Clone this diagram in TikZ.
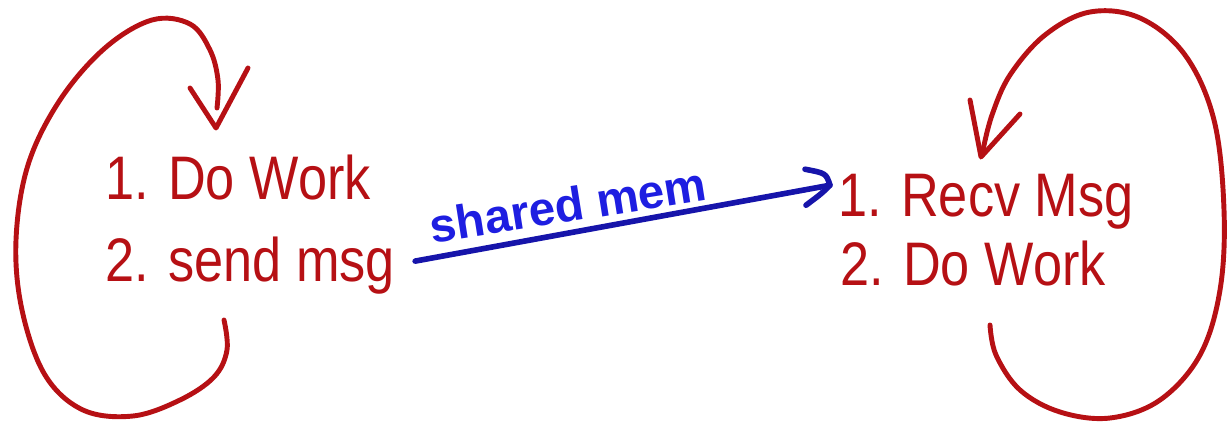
\documentclass[tikz,border=0pt]{standalone}
\usepackage{fontspec}
\setmainfont{Liberation Sans}
\usetikzlibrary{calc}
\definecolor{inkred}{RGB}{182,16,20}
\definecolor{inkblue}{RGB}{22,20,170}
\definecolor{labelblue}{RGB}{30,30,225}
\begin{document}
\begin{tikzpicture}[x=0.02cm,y=-0.02cm,
  stepitem/.style={anchor=base west,inner sep=0pt,text=inkred,font=\fontsize{35}{40}\selectfont,xscale=0.85,transform shape},
  loopline/.style={draw=inkred,line width=2.8pt,line cap=round,line join=round},
  msgline/.style={draw=inkblue,line width=3.2pt,line cap=round,line join=round}]
\useasboundingbox (0,0) rectangle (1230,429);
% text nodes
\node[stepitem] (lw) at (105,199) {1. Do Work};
\node[stepitem] (ls) at (105,281) {2. send msg};
\node[stepitem] (rr) at (838,216) {1. Recv Msg};
\node[stepitem] (rw) at (840,285) {2. Do Work};
% left loop
\coordinate (ltip) at (216,128);
\draw[loopline] plot[smooth,tension=0.6] coordinates {(224,320) (227,350) (214,377) (180,400) (133,416) (83,410) (45,375) (22,310) (16,240) (28,165) (60,100) (105,48) (152,20) (190,24) (210,50) (218,80) (217,108)};
\draw[loopline] (190,88) -- (ltip) -- (248,68);
% right loop
\coordinate (rtip) at (981,157);
\draw[loopline] plot[smooth,tension=0.6] coordinates {(990,325) (996,355) (1020,390) (1060,412) (1110,418) (1160,400) (1200,355) (1220,290) (1224,210) (1214,120) (1185,55) (1140,18) (1090,12) (1045,35) (1010,75) (992,115) (983,150)};
\draw[loopline] (970,100) -- (rtip) -- (1020,114);
% shared memory connector
\coordinate (mstart) at ($(ls.east)+(20,-4)$);
\coordinate (mend) at ($(rr.west)+(-8,-16)$);
\draw[msgline] (mstart) -- (mend);
\draw[msgline] ($(mend)+(-25,-16)$) .. controls ($(mend)+(-4,-12)$) .. (mend) .. controls ($(mend)+(-8,8)$) .. ($(mend)+(-24,20)$);
\node[text=labelblue,font=\fontsize{27}{30}\selectfont\bfseries,rotate=9,inner sep=0pt] (lab) at (568,205) {shared mem};
\end{tikzpicture}
\end{document}
